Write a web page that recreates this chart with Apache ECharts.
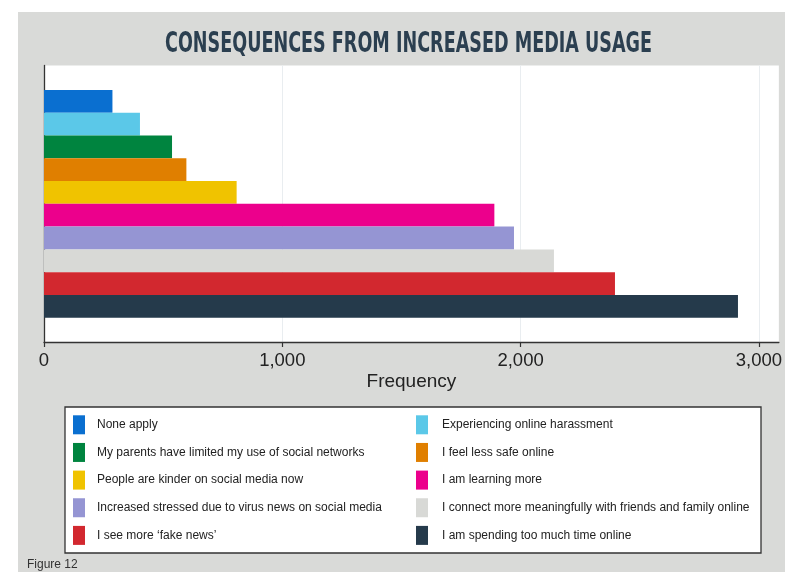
<!DOCTYPE html>
<html>
<head>
<meta charset="utf-8">
<script src="https://cdn.jsdelivr.net/npm/echarts@6/dist/echarts.min.js"></script>
<style>
  html, body { margin: 0; padding: 0; background: #ffffff; }
  #chart { width: 785px; height: 572px; }
</style>
</head>
<body>
<div id="chart"></div>
<script>
// Responses, top bar first
const categories = [
  'None apply',
  'Experiencing online harassment',
  'My parents have limited my use of social networks',
  'I feel less safe online',
  'People are kinder on social media now',
  'I am learning more',
  'Increased stressed due to virus news on social media',
  'I connect more meaningfully with friends and family online',
  'I see more \u2018fake news\u2019',
  'I am spending too much time online'
];
const frequencies = [286, 401, 535, 595, 805, 1882, 1964, 2131, 2386, 2900];
const barColors = [
  '#0A6FD0', '#5BC8E8', '#00843F', '#E07F00', '#F0C300',
  '#EC008C', '#9595D3', '#D8D9D6', '#D2282F', '#253A4B'
];
const tickValues = [0, 1000, 2000, 3000];
const axisMax = 3084;
const titleText = 'CONSEQUENCES FROM INCREASED MEDIA USAGE';
const axisTitle = 'Frequency';
const figureNote = 'Figure 12';

const chart = echarts.init(document.getElementById('chart'), null, { renderer: 'canvas' });

// The headline is set in a heavy condensed face: draw a bold sans and
// squeeze it horizontally to the headline width.
const titleFont = 'bold 28px "DejaVu Sans", sans-serif';
const titleWidth = 487;
const measureCtx = document.createElement('canvas').getContext('2d');
measureCtx.font = titleFont;
const titleScale = titleWidth / measureCtx.measureText(titleText).width;

// one stacked series per response so each gets its own legend key
const series = categories.map((name, i) => ({
  name: name,
  type: 'bar',
  xAxisIndex: 1,
  yAxisIndex: 1,
  stack: 'all',
  barWidth: '100%',
  barCategoryGap: 0,
  itemStyle: { color: barColors[i] },
  emphasis: { disabled: true },
  data: categories.map((_, j) => (j === i ? frequencies[i] : '-'))
}));

const fmt = v => Number(v).toLocaleString('en-US');
const legendText = { fontFamily: 'Liberation Sans, Arial, sans-serif', fontSize: 12, color: '#222' };

const option = {
  animation: false,
  backgroundColor: '#ffffff',
  graphic: [
    { type: 'rect', z: -10, shape: { x: 18, y: 12, width: 767, height: 560 }, style: { fill: '#D9DAD8' } },
    { type: 'rect', z: -5, shape: { x: 65, y: 407, width: 696, height: 146 },
      style: { fill: '#ffffff', stroke: '#333333', lineWidth: 1.3 } },
    { type: 'text', x: 408.5, y: 45, scaleX: titleScale, style: {
        text: titleText, align: 'center', verticalAlign: 'middle',
        font: titleFont, fill: '#2B3F50' } },
    { type: 'text', x: 27, y: 565, style: {
        text: figureNote, align: 'left', verticalAlign: 'middle',
        font: '12px "Liberation Sans", Arial, sans-serif', fill: '#333' } }
  ],
  grid: [
    { left: 44, right: 3, top: 65.5, bottom: 230, show: true, backgroundColor: '#ffffff', borderWidth: 0 },
    { left: 44, right: 3, top: 90, bottom: 254.3 }
  ],
  xAxis: [
    {
      gridIndex: 0, type: 'value', min: 0, max: axisMax, interval: 1000,
      name: axisTitle, nameLocation: 'middle', nameGap: 30,
      nameTextStyle: { fontFamily: 'Liberation Sans, Arial, sans-serif', fontSize: 19, color: '#222' },
      axisLine: { show: true, lineStyle: { color: '#333', width: 1.3 } },
      axisTick: { show: true, length: 5, customValues: tickValues, lineStyle: { color: '#333', width: 1.2 } },
      axisLabel: { customValues: tickValues, margin: 9, formatter: fmt,
        fontFamily: 'Liberation Sans, Arial, sans-serif', fontSize: 18.5, color: '#222' },
      splitLine: { show: true, lineStyle: { color: '#E9EDF0', width: 1 } }
    },
    { gridIndex: 1, type: 'value', min: 0, max: axisMax, show: false }
  ],
  yAxis: [
    {
      gridIndex: 0, type: 'value', min: 0, max: 1,
      axisLine: { show: true, lineStyle: { color: '#333', width: 1.3 } },
      axisTick: { show: false }, axisLabel: { show: false }, splitLine: { show: false }
    },
    { gridIndex: 1, type: 'category', inverse: true, data: categories, show: false }
  ],
  legend: [
    {
      orient: 'vertical', left: 73, top: 415.3, padding: 0, itemGap: 8.65,
      itemWidth: 12, itemHeight: 19, icon: 'rect', selectedMode: false,
      data: categories.filter((_, i) => i % 2 === 0),
      textStyle: Object.assign({ padding: [0, 0, 0, 7] }, legendText)
    },
    {
      orient: 'vertical', left: 416, top: 415.3, padding: 0, itemGap: 8.65,
      itemWidth: 12, itemHeight: 19, icon: 'rect', selectedMode: false,
      data: categories.filter((_, i) => i % 2 === 1),
      textStyle: Object.assign({ padding: [0, 0, 0, 9] }, legendText)
    }
  ],
  series: series
};

chart.setOption(option);
</script>
</body>
</html>
